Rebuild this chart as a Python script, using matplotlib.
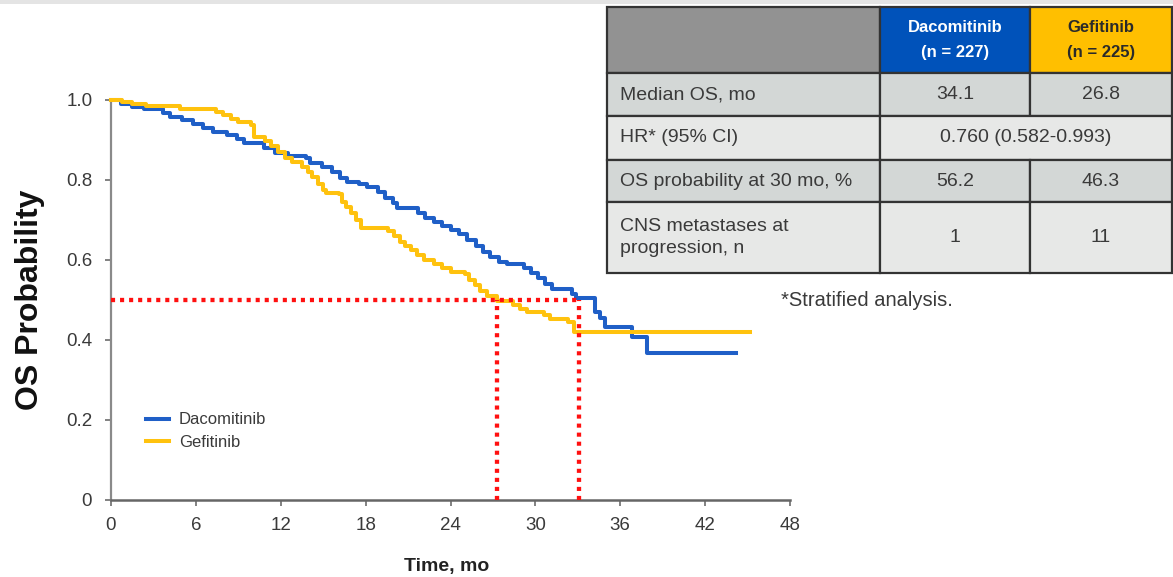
import matplotlib
matplotlib.use("Agg")
import matplotlib.pyplot as plt
from matplotlib.patches import Rectangle

plt.rcParams['font.family'] = ['Liberation Sans', 'DejaVu Sans']

# Kaplan-Meier step data (months, OS probability)
daco_t = [0, 0.7, 1.5, 2.3, 3.7, 4.2, 5.0, 5.8, 6.5, 7.2, 8.2, 8.9, 9.4, 10.8, 11.6,
          12.5, 13.8, 14.1, 14.9, 15.6, 16.2, 16.7, 17.5, 18.1, 18.9, 19.4, 19.9, 20.2,
          21.7, 22.2, 22.8, 23.4, 24.0, 24.6, 25.2, 25.8, 26.3, 26.8, 27.4, 28.0, 29.2,
          29.7, 30.2, 30.7, 31.2, 32.6, 32.9, 34.2, 34.6, 34.9, 36.8, 37.9, 44.2]
daco_s = [1.0, 0.99, 0.983, 0.978, 0.968, 0.958, 0.95, 0.94, 0.93, 0.92, 0.913, 0.903,
          0.893, 0.88, 0.868, 0.86, 0.855, 0.842, 0.833, 0.82, 0.805, 0.795, 0.79, 0.783,
          0.77, 0.755, 0.742, 0.73, 0.718, 0.705, 0.695, 0.685, 0.675, 0.665, 0.65, 0.635,
          0.62, 0.608, 0.595, 0.59, 0.58, 0.568, 0.556, 0.54, 0.528, 0.516, 0.505, 0.47,
          0.455, 0.433, 0.408, 0.367, 0.367]

gefi_t = [0, 0.8, 1.5, 2.5, 4.9, 7.4, 7.9, 8.5, 9.0, 9.9, 10.1, 10.9, 11.3, 11.8, 12.3,
          12.8, 13.5, 13.9, 14.2, 14.6, 15.0, 15.2, 16.1, 16.3, 16.6, 17.0, 17.3, 17.7,
          19.6, 20.0, 20.4, 20.8, 21.2, 21.6, 22.1, 22.8, 23.4, 24.0, 25.0, 25.3, 25.7,
          26.1, 26.6, 27.3, 28.4, 28.9, 29.4, 30.6, 31.0, 32.3, 32.7, 45.2]
gefi_s = [1.0, 0.995, 0.99, 0.985, 0.977, 0.97, 0.962, 0.952, 0.945, 0.938, 0.908, 0.898,
          0.885, 0.87, 0.855, 0.845, 0.833, 0.82, 0.808, 0.79, 0.775, 0.768, 0.765, 0.745,
          0.732, 0.718, 0.7, 0.68, 0.672, 0.66, 0.645, 0.635, 0.625, 0.612, 0.6, 0.59,
          0.58, 0.57, 0.565, 0.55, 0.538, 0.522, 0.51, 0.497, 0.487, 0.478, 0.47, 0.462,
          0.452, 0.445, 0.42, 0.42]

median_x = [27.3, 33.1]   # where the dotted median lines drop
median_y = 0.5

x_ticks = [0, 6, 12, 18, 24, 30, 36, 42, 48]
y_ticks = [0, 0.2, 0.4, 0.6, 0.8, 1.0]
y_tick_labels = ['0', '0.2', '0.4', '0.6', '0.8', '1.0']

# table contents
row_labels = ['Median OS, mo', 'HR* (95% CI)', 'OS probability at 30 mo, %',
              'CNS metastases at\nprogression, n']
daco_vals = ['34.1', None, '56.2', '1']
gefi_vals = ['26.8', None, '46.3', '11']
hr_text = '0.760 (0.582-0.993)'

blue = '#1f5fc7'
gold = '#ffc20e'
txt = '#3a3a3a'

fig = plt.figure(figsize=(11.73, 5.77), dpi=100)
W, H = 1173, 577
ax = fig.add_axes([111 / W, 77 / H, 679 / W, 400 / H])

ax.step(daco_t, daco_s, where='post', color=blue, lw=2.9, label='Dacomitinib',
        clip_on=False, zorder=3)
ax.step(gefi_t, gefi_s, where='post', color=gold, lw=2.9, label='Gefitinib',
        clip_on=False, zorder=3)

# dotted median guides
dot = dict(color='#ff1010', lw=3.1, linestyle=(0, (0.95, 1.15)), dash_capstyle='butt',
           zorder=4, clip_on=False)
ax.plot([0, max(median_x)], [median_y, median_y], **dot)
for mx in median_x:
    ax.plot([mx, mx], [0, median_y], **dot)

ax.set_xlim(0, 48)
ax.set_ylim(0, 1.0)
ax.set_xticks(x_ticks)
ax.set_xticklabels([str(v) for v in x_ticks])
ax.set_yticks(y_ticks)
ax.set_yticklabels(y_tick_labels)
for s in ['top', 'right']:
    ax.spines[s].set_visible(False)
ax.spines['left'].set_color('#8a8a8a')
ax.spines['left'].set_linewidth(1.6)
ax.spines['bottom'].set_color('#666666')
ax.spines['bottom'].set_linewidth(1.8)
ax.tick_params(axis='both', direction='out', length=4.5, width=1.3, colors='#777777',
               labelcolor=txt, labelsize=13.5)
ax.tick_params(axis='y', pad=9)
ax.tick_params(axis='x', pad=8)

ax.set_ylabel('OS Probability', fontsize=23, fontweight='bold', color='#111111')
ax.yaxis.set_label_coords(-0.097, 0.5)
ax.set_xlabel('Time, mo', fontsize=14, fontweight='bold', color='#222222')
ax.xaxis.set_label_coords(0.495, -0.145)

ax.legend(loc='upper left', bbox_to_anchor=(0.052, 0.219), frameon=False, fontsize=12,
          handlelength=1.35, handletextpad=0.6, labelspacing=0.45, borderpad=0,
          borderaxespad=0, labelcolor=txt)

# table drawn in pixel coordinates on an overlay
tx = fig.add_axes([0, 0, 1, 1])
tx.set_xlim(0, W)
tx.set_ylim(H, 0)
tx.axis('off')
tx.patch.set_alpha(0)

tx.add_patch(Rectangle((0, 0), W, 4, facecolor='#e4e4e4', edgecolor='none'))

cols = [607, 880, 1030, 1172]
rows = [7, 73, 116, 160, 202, 273]
edge = '#333333'
row_fill = ['#d3d7d6', '#e7e8e7', '#d3d7d6', '#e7e8e7']

head_fill = ['#929292', '#0052ba', '#ffbf00']
for j in range(3):
    tx.add_patch(Rectangle((cols[j], rows[0]), cols[j + 1] - cols[j], rows[1] - rows[0],
                           facecolor=head_fill[j], edgecolor=edge, lw=1.6))
hy = (rows[0] + rows[1]) / 2
tx.text((cols[1] + cols[2]) / 2, hy, 'Dacomitinib\n(n = 227)', ha='center', va='center',
        color='white', fontsize=12, fontweight='bold', linespacing=1.75)
tx.text((cols[2] + cols[3]) / 2, hy, 'Gefitinib\n(n = 225)', ha='center', va='center',
        color='#2a2a2a', fontsize=12, fontweight='bold', linespacing=1.75)

for i, lab in enumerate(row_labels):
    y0, y1 = rows[i + 1], rows[i + 2]
    cy = (y0 + y1) / 2
    tx.add_patch(Rectangle((cols[0], y0), cols[1] - cols[0], y1 - y0,
                           facecolor=row_fill[i], edgecolor=edge, lw=1.6))
    tx.text(cols[0] + 13, cy, lab, ha='left', va='center', color=txt, fontsize=14,
            linespacing=1.45)
    if daco_vals[i] is None:
        tx.add_patch(Rectangle((cols[1], y0), cols[3] - cols[1], y1 - y0,
                               facecolor=row_fill[i], edgecolor=edge, lw=1.6))
        tx.text((cols[1] + cols[3]) / 2, cy, hr_text, ha='center', va='center',
                color=txt, fontsize=14)
    else:
        for j, v in ((1, daco_vals[i]), (2, gefi_vals[i])):
            tx.add_patch(Rectangle((cols[j], y0), cols[j + 1] - cols[j], y1 - y0,
                                   facecolor=row_fill[i], edgecolor=edge, lw=1.6))
            tx.text((cols[j] + cols[j + 1]) / 2, cy, v, ha='center', va='center',
                    color=txt, fontsize=14)

tx.text(867, 300, '*Stratified analysis.', ha='center', va='center', color=txt,
        fontsize=14.5)

fig.savefig('out.png', dpi=100)
